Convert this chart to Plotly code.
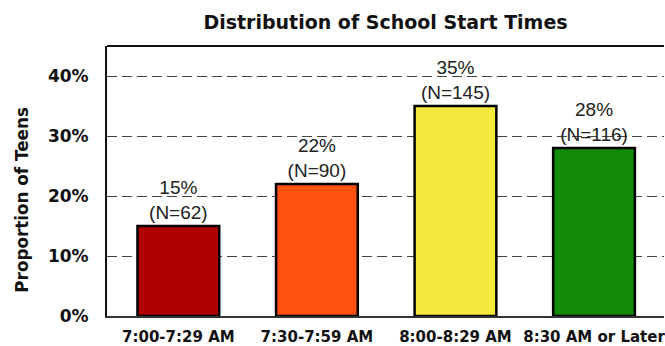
import plotly.graph_objects as go

# School start time bins and share of teens in each
categories = ["7:00-7:29 AM", "7:30-7:59 AM", "8:00-8:29 AM", "8:30 AM or Later"]
percent = [15, 22, 35, 28]
counts = [62, 90, 145, 116]
bar_colors = ["#B00000", "#FF5010", "#F5E83C", "#128A0A"]
tick_vals = [0, 10, 20, 30, 40]
tick_text = ["0%", "10%", "20%", "30%", "40%"]

BOLD_FONT = "DejaVu Sans, Liberation Sans, Arial"
REG_FONT = "Liberation Sans, Arial"

labels = [f"{p}%<br>(N={n})" for p, n in zip(percent, counts)]

fig = go.Figure(
    go.Bar(
        x=categories,
        y=percent,
        marker=dict(color=bar_colors, line=dict(color="#000000", width=2.5)),
        text=labels,
        textposition="outside",
        cliponaxis=False,
        textfont=dict(family=REG_FONT, size=19, color="#222222"),
        width=0.59,
        hoverinfo="skip",
    )
)

fig.update_layout(
    width=665,
    height=346,
    margin=dict(l=107, r=0, t=46, b=27),
    paper_bgcolor="white",
    plot_bgcolor="white",
    showlegend=False,
    title=dict(
        text="<b>Distribution of School Start Times</b>",
        x=0.5,
        xref="paper",
        y=0.935,
        yanchor="middle",
        font=dict(family=BOLD_FONT, size=19, color="#111111"),
    ),
    font=dict(family=REG_FONT, color="#111111"),
)

fig.update_xaxes(
    range=[-0.515, 3.505],
    showline=True,
    linecolor="#333333",
    linewidth=2,
    showgrid=False,
    ticks="",
    tickfont=dict(size=15, color="#111111", family=BOLD_FONT),
    tickprefix="<b>",
    ticksuffix="</b>",
    ticklabelstandoff=6,
)

fig.update_yaxes(
    range=[0, 45],
    tickvals=tick_vals,
    ticktext=[f"<b>{t}</b>" for t in tick_text],
    tickfont=dict(size=17, color="#111111", family=BOLD_FONT),
    showline=True,
    linecolor="#111111",
    linewidth=2,
    showgrid=True,
    gridcolor="#444444",
    gridwidth=1.3,
    griddash="10px,5px",
    zeroline=False,
    ticks="",
    ticklabelstandoff=13,
)

# y-axis title, placed a little below the middle of the plot
fig.add_annotation(
    text="<b>Proportion of Teens</b>",
    textangle=-90,
    xref="paper", yref="paper",
    x=-0.153, y=0.43,
    xanchor="center", yanchor="middle",
    showarrow=False,
    font=dict(size=16.8, color="#111111", family=BOLD_FONT),
)

# top frame edge
fig.add_shape(
    type="line", xref="paper", yref="paper",
    x0=0, x1=1, y0=1, y1=1,
    line=dict(color="#111111", width=2),
)

fig.write_html("out.html")
